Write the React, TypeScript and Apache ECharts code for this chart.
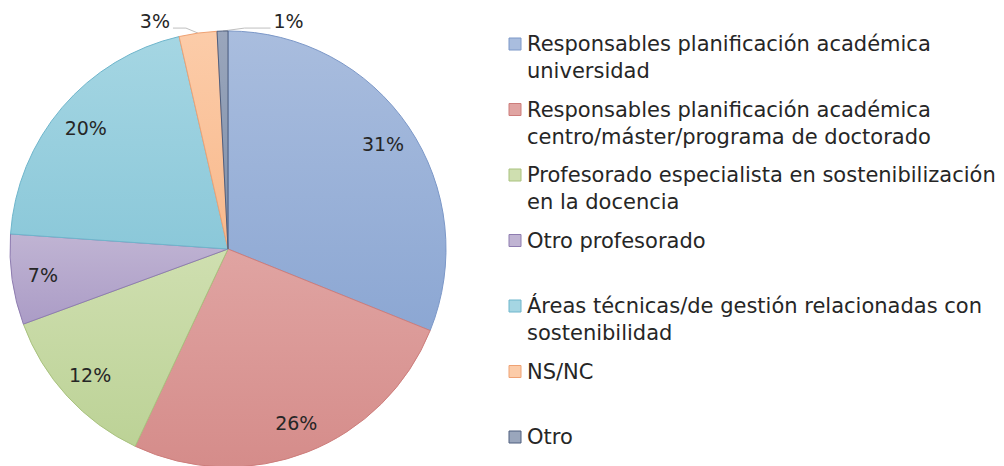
import React, { useEffect, useRef } from "react";
import * as echarts from "echarts";

const categories = [
  "Responsables planificación académica\nuniversidad",
  "Responsables planificación académica\ncentro/máster/programa de doctorado",
  "Profesorado especialista en sostenibilización\nen la docencia",
  "Otro profesorado",
  "Áreas técnicas/de gestión relacionadas con\nsostenibilidad",
  "NS/NC",
  "Otro",
];
const values = [31.1, 25.9, 12.4, 6.7, 20.3, 2.8, 0.8];
const colorsTop = ["#A9BDDE", "#E0A4A2", "#CFDFB0", "#C0B4D3", "#A5D6E3", "#FCCCA9", "#9AA6BC"];
const colorsBottom = ["#8CA7D3", "#D58C8A", "#BCD296", "#AB9CC6", "#8BC8D9", "#F8B98C", "#8090AA"];
const borders = ["#7C98C8", "#CD7D7B", "#A9C27F", "#8E7CB0", "#6FB6CC", "#EFA274", "#4F5F7F"];
const outsideIdx = [5, 6];

const FONT = "DejaVu Sans";
const CX = 228;
const CY = 249;
const R = 218;

export default function App() {
  const ref = useRef<HTMLDivElement>(null);
  useEffect(() => {
    const chart = echarts.init(ref.current!, null, { renderer: "svg" });
    const grad = (i: number) =>
      new echarts.graphic.LinearGradient(0, 0, 0, 1, [
        { offset: 0, color: colorsTop[i] },
        { offset: 1, color: colorsBottom[i] },
      ]);
    const total = values.reduce((a, b) => a + b, 0);
    const pct = (v: number) => Math.round((v / total) * 100) + "%";

    const mainData = values.map((v, i) => ({
      value: v,
      name: categories[i],
      itemStyle: { color: grad(i), borderColor: borders[i], borderWidth: 1 },
      label: outsideIdx.includes(i)
        ? { show: true, position: "outside" }
        : { show: false },
      labelLine: outsideIdx.includes(i)
        ? { show: true, length: 5, length2: 20, lineStyle: { color: "#BFBFBF", width: 1 } }
        : { show: false },
    }));
    const overlayData = values.map((v, i) => ({
      value: v,
      name: categories[i],
      label: { show: !outsideIdx.includes(i) },
    }));

    const legendItems: any[] = [];
    categories.forEach((c, i) => {
      const y = 44 + i * 65.5;
      legendItems.push({
        type: "rect",
        shape: { x: 509, y: y - 6, width: 12, height: 12 },
        style: { fill: colorsTop[i], stroke: borders[i], lineWidth: 1 },
      });
      legendItems.push({
        type: "text",
        x: 527,
        y: y - 13.5,
        style: {
          text: c,
          fontFamily: FONT,
          fontSize: 21,
          lineHeight: 27,
          fill: "#262626",
          verticalAlign: "top",
        },
      });
    });

    chart.setOption({
      animation: false,
      graphic: legendItems,
      series: [
        {
          type: "pie",
          center: [CX, CY],
          radius: [0, R],
          startAngle: 90,
          clockwise: true,
          data: mainData,
          label: {
            formatter: (p: any) => pct(p.value),
            fontFamily: FONT,
            fontSize: 19,
            color: "#262626",
          },
          labelLayout: (params: any) => {
            const pts = params.labelLinePoints;
            if (!pts) return {};
            const p0 = pts[0];
            if (params.dataIndex === 6) {
              return {
                x: p0[0] + 51,
                y: p0[1] - 10,
                align: "left",
                verticalAlign: "middle",
                labelLinePoints: [p0, [p0[0] + 22, p0[1] - 3], [p0[0] + 48, p0[1] - 3]],
              };
            }
            if (params.dataIndex === 5) {
              return {
                x: p0[0] - 28,
                y: p0[1] - 12,
                align: "right",
                verticalAlign: "middle",
                labelLinePoints: [p0, [p0[0] - 12, p0[1] - 5], [p0[0] - 25, p0[1] - 5]],
              };
            }
            return {};
          },
          emphasis: { disabled: true },
          silent: true,
        },
        {
          type: "pie",
          center: [CX, CY],
          radius: [150, R],
          startAngle: 90,
          clockwise: true,
          data: overlayData,
          itemStyle: { color: "rgba(0,0,0,0)", borderWidth: 0 },
          label: {
            position: "inside",
            formatter: (p: any) => pct(p.value),
            fontFamily: FONT,
            fontSize: 19,
            color: "#262626",
          },
          labelLine: { show: false },
          emphasis: { disabled: true },
          silent: true,
        },
      ],
    });
    return () => chart.dispose();
  }, []);
  return (
    <div
      ref={ref}
      style={{ position: "absolute", left: 0, top: 0, width: 1004, height: 466 }}
    />
  );
}
